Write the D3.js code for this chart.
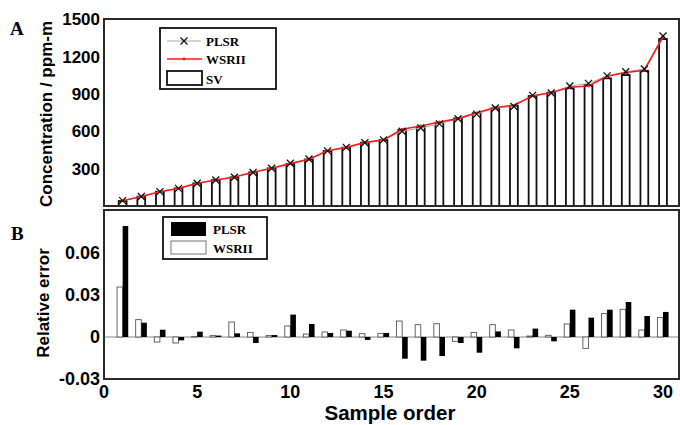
<!DOCTYPE html>
<html>
<head>
<meta charset="utf-8">
<script src="https://cdn.jsdelivr.net/npm/d3@7/dist/d3.min.js"></script>
<style>
  html, body { margin: 0; padding: 0; background: #fff; }
  svg { display: block; }
</style>
</head>
<body>
<svg id="chart" width="680" height="425"></svg>
<script>
// ---------- DATA ----------
const samples = d3.range(1, 31);
const svValues = [40,75,115,142,182,208,230,270,302,337,374,441,468,508,529,609,636,668,703,745,783,804,882,909,944,970,1024,1050,1083,1339];
const plsrPred = [43.2,75.8,115.6,141.7,182.7,208.2,230.6,268.8,302.4,342.4,377.5,442.3,470.1,506.9,530.5,599.6,625.3,658.9,700.0,736.7,786.1,797.5,887.3,906.2,962.4,983.4,1044.0,1076.3,1099.2,1363.0];
const wsriiPred = [41.4,75.9,114.6,141.4,182.1,208.2,232.5,270.9,302.3,339.7,374.8,442.6,470.3,509.2,530.4,615.9,641.6,674.3,700.8,747.5,789.9,808.0,882.6,910.1,952.8,962.1,1041.1,1070.8,1088.4,1357.7];
const plsrErr = [0.0793,0.0102,0.0052,-0.0024,0.0038,0.0010,0.0026,-0.0043,0.0014,0.0160,0.0093,0.0029,0.0045,-0.0021,0.0029,-0.0155,-0.0169,-0.0136,-0.0043,-0.0112,0.0040,-0.0081,0.0060,-0.0031,0.0195,0.0138,0.0195,0.0250,0.0150,0.0179];
const wsriiErr = [0.0357,0.0124,-0.0036,-0.0043,0.0003,0.0010,0.0107,0.0033,0.0010,0.0079,0.0021,0.0036,0.0050,0.0024,0.0026,0.0114,0.0088,0.0095,-0.0031,0.0033,0.0088,0.0050,0.0007,0.0012,0.0093,-0.0081,0.0167,0.0198,0.0050,0.0140];
const concTicks = [300,600,900,1200,1500];
const errTicks = [-0.03,0,0.03,0.06];
const errTickLabels = ["-0.03","0","0.03","0.06"];
const xTicks = [0,5,10,15,20,25,30];

// ---------- LAYOUT ----------
const svg = d3.select("#chart");
const sans = "'Liberation Sans', Arial, sans-serif";
const serif = "'Liberation Serif', 'Times New Roman', serif";

const x = d3.scaleLinear().domain([0, 30]).range([104, 663]);
const xRight = x(30.86);
const yTop = d3.scaleLinear().domain([0, 1500]).range([206, 19]);
const yBot = d3.scaleLinear().domain([-0.03, 0.09]).range([379, 211]);

// ---------- PANEL A ----------
const gA = svg.append("g");
gA.selectAll("rect.sv").data(samples).join("rect")
  .attr("class", "sv")
  .attr("x", d => x(d - 0.21))
  .attr("width", x(0.42) - x(0))
  .attr("y", (d, i) => yTop(svValues[i]))
  .attr("height", (d, i) => yTop(0) - yTop(svValues[i]))
  .attr("fill", "#fff").attr("stroke", "#111").attr("stroke-width", 1.8);

gA.append("path")
  .datum(samples)
  .attr("d", d3.line().x(d => x(d)).y((d, i) => yTop(plsrPred[i])))
  .attr("fill", "none").attr("stroke", "#aaa").attr("stroke-width", 1);

gA.append("path")
  .datum(samples)
  .attr("d", d3.line().x(d => x(d)).y((d, i) => yTop(wsriiPred[i])))
  .attr("fill", "none").attr("stroke", "#ff1a1a").attr("stroke-width", 1.6);
gA.selectAll("circle.w").data(samples).join("circle")
  .attr("class", "w")
  .attr("cx", d => x(d)).attr("cy", (d, i) => yTop(wsriiPred[i]))
  .attr("r", 1.4).attr("fill", "#ff1a1a");

const xm = 3.5;
gA.selectAll("path.xm").data(samples).join("path")
  .attr("class", "xm")
  .attr("d", (d, i) => {
    const cx = x(d), cy = yTop(plsrPred[i]);
    return `M${cx - xm},${cy - xm}L${cx + xm},${cy + xm}M${cx - xm},${cy + xm}L${cx + xm},${cy - xm}`;
  })
  .attr("stroke", "#111").attr("stroke-width", 1.3).attr("fill", "none");

gA.append("rect")
  .attr("x", x(0)).attr("y", yTop(1500))
  .attr("width", xRight - x(0)).attr("height", yTop(0) - yTop(1500))
  .attr("fill", "none").attr("stroke", "#2a2a2a").attr("stroke-width", 2);

gA.selectAll("text.yt").data(concTicks).join("text")
  .attr("class", "yt")
  .attr("x", 100).attr("y", d => yTop(d))
  .attr("dy", "0.36em")
  .attr("text-anchor", "end")
  .attr("font-family", sans).attr("font-weight", "bold").attr("font-size", 17)
  .text(d => d);

svg.append("text")
  .attr("transform", "translate(52,114) rotate(-90)")
  .attr("text-anchor", "middle")
  .attr("font-family", sans).attr("font-weight", "bold").attr("font-size", 17)
  .text("Concentration / ppm-m");

svg.append("text").attr("x", 10).attr("y", 35)
  .attr("font-family", serif).attr("font-weight", "bold").attr("font-size", 19)
  .text("A");

const lgA = svg.append("g");
lgA.append("rect").attr("x", 160).attr("y", 28).attr("width", 116).attr("height", 61)
  .attr("fill", "#fff").attr("stroke", "#111").attr("stroke-width", 1.8);
lgA.append("line").attr("x1", 167).attr("x2", 201).attr("y1", 41).attr("y2", 41)
  .attr("stroke", "#aaa").attr("stroke-width", 1);
lgA.append("path")
  .attr("d", `M${184 - xm},${41 - xm}L${184 + xm},${41 + xm}M${184 - xm},${41 + xm}L${184 + xm},${41 - xm}`)
  .attr("stroke", "#111").attr("stroke-width", 1.3);
lgA.append("line").attr("x1", 167).attr("x2", 202).attr("y1", 59).attr("y2", 59)
  .attr("stroke", "#ff1a1a").attr("stroke-width", 1.6);
lgA.append("circle").attr("cx", 184).attr("cy", 59).attr("r", 1.4).attr("fill", "#ff1a1a");
lgA.append("rect").attr("x", 167).attr("y", 71).attr("width", 35).attr("height", 14)
  .attr("fill", "#fff").attr("stroke", "#111").attr("stroke-width", 1.8);
const lgAItems = [["PLSR", 41], ["WSRII", 59], ["SV", 79]];
lgA.selectAll("text").data(lgAItems).join("text")
  .attr("x", 206).attr("y", d => d[1]).attr("dy", "0.35em")
  .attr("font-family", serif).attr("font-weight", "bold").attr("font-size", 13)
  .text(d => d[0]);

// ---------- PANEL B ----------
const gB = svg.append("g");
const bw = x(0.3) - x(0);
gB.append("line")
  .attr("x1", x(0)).attr("x2", xRight).attr("y1", yBot(0)).attr("y2", yBot(0))
  .attr("stroke", "#888").attr("stroke-width", 1);
gB.selectAll("rect.w").data(samples).join("rect")
  .attr("class", "w")
  .attr("x", d => x(d) - bw)
  .attr("width", bw)
  .attr("y", (d, i) => Math.min(yBot(wsriiErr[i]), yBot(0)))
  .attr("height", (d, i) => Math.abs(yBot(wsriiErr[i]) - yBot(0)))
  .attr("fill", "#fff").attr("stroke", "#555").attr("stroke-width", 0.9);
gB.selectAll("rect.p").data(samples).join("rect")
  .attr("class", "p")
  .attr("x", d => x(d))
  .attr("width", bw)
  .attr("y", (d, i) => Math.min(yBot(plsrErr[i]), yBot(0)))
  .attr("height", (d, i) => Math.abs(yBot(plsrErr[i]) - yBot(0)))
  .attr("fill", "#000");

gB.append("rect")
  .attr("x", x(0)).attr("y", 210)
  .attr("width", xRight - x(0)).attr("height", yBot(-0.03) - 210)
  .attr("fill", "none").attr("stroke", "#2a2a2a").attr("stroke-width", 2);

gB.selectAll("text.yt").data(errTicks).join("text")
  .attr("class", "yt")
  .attr("x", 100).attr("y", d => yBot(d))
  .attr("dy", "0.36em")
  .attr("text-anchor", "end")
  .attr("font-family", sans).attr("font-weight", "bold").attr("font-size", 18)
  .text((d, i) => errTickLabels[i]);

gB.selectAll("text.xt").data(xTicks).join("text")
  .attr("class", "xt")
  .attr("x", d => x(d)).attr("y", 398)
  .attr("text-anchor", "middle")
  .attr("font-family", sans).attr("font-weight", "bold").attr("font-size", 18)
  .text(d => d);

svg.append("text")
  .attr("transform", "translate(49,303) rotate(-90)")
  .attr("text-anchor", "middle")
  .attr("font-family", sans).attr("font-weight", "bold").attr("font-size", 17)
  .text("Relative error");
svg.append("text")
  .attr("x", 390).attr("y", 420)
  .attr("text-anchor", "middle")
  .attr("font-family", sans).attr("font-weight", "bold").attr("font-size", 20.5)
  .text("Sample order");
svg.append("text").attr("x", 11).attr("y", 240)
  .attr("font-family", serif).attr("font-weight", "bold").attr("font-size", 19)
  .text("B");

const lgB = svg.append("g");
lgB.append("rect").attr("x", 163).attr("y", 217).attr("width", 104).attr("height", 42)
  .attr("fill", "#fff").attr("stroke", "#111").attr("stroke-width", 1.8);
lgB.append("rect").attr("x", 171).attr("y", 222).attr("width", 35).attr("height", 14)
  .attr("fill", "#000");
lgB.append("rect").attr("x", 171).attr("y", 241).attr("width", 35).attr("height", 13)
  .attr("fill", "#fff").attr("stroke", "#666").attr("stroke-width", 0.9);
const lgBItems = [["PLSR", 229], ["WSRII", 248]];
lgB.selectAll("text").data(lgBItems).join("text")
  .attr("x", 213).attr("y", d => d[1]).attr("dy", "0.35em")
  .attr("font-family", serif).attr("font-weight", "bold").attr("font-size", 13)
  .text(d => d[0]);
</script>
</body>
</html>
